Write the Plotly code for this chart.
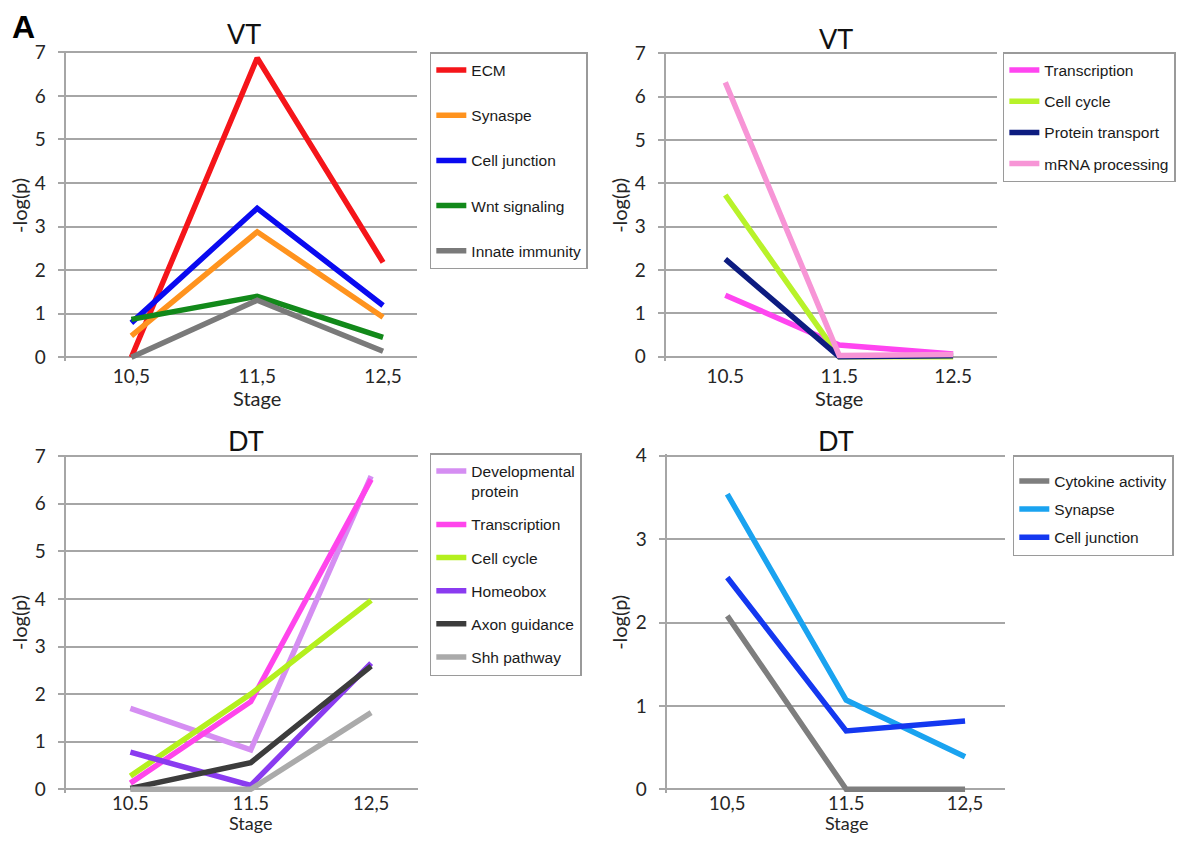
import plotly.graph_objects as go

# The page body has an 8px margin, so the figure is 16px smaller than the window
OFF = 8
W, H = 1184 - 2 * OFF, 843 - 2 * OFF

# ---------------- data ----------------
stages_p1 = ["10,5", "11,5", "12,5"]
stages_p2 = ["10.5", "11.5", "12.5"]
stages_p3 = ["10.5", "11.5", "12,5"]
stages_p4 = ["10,5", "11.5", "12,5"]

# Panel 1 (VT)
p1_names = ["ECM", "Synaspe", "Cell junction", "Wnt signaling", "Innate immunity"]
p1_ecm = [0.0, 6.87, 2.18]
p1_synapse = [0.49, 2.88, 0.92]
p1_celljunction = [0.79, 3.42, 1.19]
p1_wnt = [0.87, 1.40, 0.46]
p1_innate = [0.0, 1.31, 0.14]
p1_colors = ["#F5151A", "#FF931E", "#0A0AF0", "#12891A", "#7A7A7A"]

# Panel 2 (VT)
p2_names = ["Transcription", "Cell cycle", "Protein transport", "mRNA processing"]
p2_transcription = [1.42, 0.27, 0.06]
p2_cellcycle = [3.73, 0.0, 0.0]
p2_proteintransport = [2.25, 0.0, 0.02]
p2_mrna = [6.33, 0.03, 0.05]
p2_colors = ["#FF45F0", "#B8F22A", "#0D1C80", "#F795D6"]

# Panel 3 (DT)
p3_names = ["Developmental<br>protein", "Transcription", "Cell cycle", "Homeobox",
            "Axon guidance", "Shh pathway"]
p3_devprotein = [1.70, 0.83, 6.58]
p3_transcription = [0.13, 1.84, 6.51]
p3_cellcycle = [0.28, 2.00, 3.97]
p3_homeobox = [0.78, 0.08, 2.65]
p3_axon = [0.02, 0.56, 2.59]
p3_shh = [0.0, 0.0, 1.61]
p3_colors = ["#D58EF2", "#FF45EC", "#B4F01E", "#8A3BF0", "#3C3C3C", "#AAAAAA"]

# Panel 4 (DT)
p4_names = ["Cytokine activity", "Synapse", "Cell junction"]
p4_cytokine = [2.08, 0.0, 0.0]
p4_synapse = [3.54, 1.07, 0.39]
p4_celljunction = [2.54, 0.70, 0.82]
p4_colors = ["#7E7E7E", "#1AA3F0", "#1438F0"]

panel_titles = ["VT", "VT", "DT", "DT"]


def px(x):
    return (x - OFF) / W


def py(y):
    return 1 - (y - OFF) / H


# ---------------- layout geometry (window pixels) ----------------
# left, right, x of first category, category spacing, y pixel of 0, px per unit, ymax
geom = [
    (66, 419, 132, 126.5, 357.3, 43.57, 7),
    (669, 1002, 729, 114.5, 356.7, 43.34, 7),
    (66, 420, 131, 121.0, 789.3, 47.6, 7),
    (670, 1010, 731, 119.5, 789.3, 83.4, 4),
]

GRID = "#A6A6A6"
TICKFONT = dict(family="Lato", size=19, color="#262626")
LEGFONT = dict(family="Liberation Sans", size=15.5, color="#1a1a1a")

fig = go.Figure()

series = [
    (stages_p1, p1_names, [p1_ecm, p1_synapse, p1_celljunction, p1_wnt, p1_innate], p1_colors),
    (stages_p2, p2_names, [p2_transcription, p2_cellcycle, p2_proteintransport, p2_mrna], p2_colors),
    (stages_p3, p3_names, [p3_devprotein, p3_transcription, p3_cellcycle, p3_homeobox, p3_axon, p3_shh], p3_colors),
    (stages_p4, p4_names, [p4_cytokine, p4_synapse, p4_celljunction], p4_colors),
]

legend_keys = ["legend", "legend2", "legend3", "legend4"]

for i, (cats, names, vals, cols) in enumerate(series):
    k = "" if i == 0 else str(i + 1)
    for j, (n, v, c) in enumerate(zip(names, vals, cols)):
        fig.add_trace(go.Scatter(
            x=cats, y=v, name=n, mode="lines",
            line=dict(color=c, width=5.5),
            xaxis="x" + k, yaxis="y" + k,
            legend=legend_keys[i], legendgroup=f"p{i}_{j}",
        ))

layout = dict(
    width=W, height=H,
    margin=dict(l=0, r=0, t=0, b=0),
    paper_bgcolor="white", plot_bgcolor="white",
    annotations=[], showlegend=True,
)

title_pos = [(245, 33), (840, 38), (247, 440), (840, 440)]
ytitle_pos = [(19, 205), (622, 205), (19, 622), (622, 622)]
# (y pixel, anchor, font size, tick label standoff, tick font size) for "Stage"
stage_cfg = [(398, "middle", 20, 2, 19), (398, "middle", 20, 2, 19),
             (835, "bottom", 18, -3, 18.5), (835, "bottom", 18, -3, 18.5)]

for i, (left, right, c0, d, p0, s, ymax) in enumerate(geom):
    k = "" if i == 0 else str(i + 1)
    xr = [(left - c0) / d, (right - c0) / d]
    ylo = -4.0 / s
    yhi = ymax + 1.5 / s
    top_px = p0 - yhi * s
    bot_px = p0 + 4.0
    cats = series[i][0]
    sy, sanchor, sfont, tstand, tfs = stage_cfg[i]
    layout["xaxis" + k] = dict(
        type="category", categoryorder="array", categoryarray=cats,
        range=xr, domain=[px(left), px(right)],
        anchor="y" + k, showgrid=False, showline=False, zeroline=False,
        ticks="", tickfont=dict(TICKFONT, size=tfs), ticklabelstandoff=tstand,
        automargin=False, fixedrange=True,
    )
    layout["yaxis" + k] = dict(
        range=[ylo, yhi], domain=[py(bot_px), py(top_px)],
        anchor="x" + k, dtick=1, tick0=0,
        showgrid=True, gridcolor=GRID, gridwidth=2,
        zeroline=True, zerolinecolor=GRID, zerolinewidth=2,
        showline=True, linecolor=GRID, linewidth=2,
        ticks="outside", ticklen=6, tickcolor=GRID, tickwidth=2,
        tickfont=TICKFONT, ticklabelstandoff=8, automargin=False,
        fixedrange=True,
    )
    # panel title
    tx, ty = title_pos[i]
    layout["annotations"].append(dict(
        text=panel_titles[i], x=px(tx), y=py(ty), xref="paper", yref="paper",
        showarrow=False, xanchor="center", yanchor="middle",
        font=dict(family="Lato", size=27, color="#111111"),
    ))
    # y title
    yx, yy = ytitle_pos[i]
    layout["annotations"].append(dict(
        text="-log(p)", x=px(yx), y=py(yy), xref="paper", yref="paper",
        showarrow=False, xanchor="center", yanchor="middle", textangle=-90,
        font=dict(family="Lato", size=20, color="#262626"),
    ))
    # x title (centred on the middle stage; category index 1)
    layout["annotations"].append(dict(
        text="Stage", x=1, y=py(sy), xref="x" + k, yref="paper",
        showarrow=False, xanchor="center", yanchor=sanchor, borderpad=0,
        font=dict(family="Lato", size=sfont, color="#262626"),
    ))

layout["annotations"].append(dict(
    text="<b>A</b>", x=px(10), y=py(27), xref="paper", yref="paper",
    showarrow=False, xanchor="left", yanchor="middle",
    font=dict(family="Liberation Sans", size=32, color="black"),
))

leg_common = dict(
    xanchor="left", yanchor="top", bgcolor="white",
    bordercolor="#9A9A9A", borderwidth=1.5, font=LEGFONT,
    itemwidth=30, valign="top", entrywidthmode="pixels",
)
layout["legend"] = dict(x=px(432), y=py(52), tracegroupgap=22, entrywidth=124, **leg_common)
layout["legend2"] = dict(x=px(1008), y=py(52), tracegroupgap=8, entrywidth=128, **leg_common)
layout["legend3"] = dict(x=px(432), y=py(453), tracegroupgap=10, entrywidth=124, **leg_common)
layout["legend4"] = dict(x=px(1018), y=py(455), tracegroupgap=5, entrywidth=120,
                         title=dict(text=" ", font=dict(size=6)), **leg_common)

fig.update_layout(**layout)
fig.write_html("out.html")
